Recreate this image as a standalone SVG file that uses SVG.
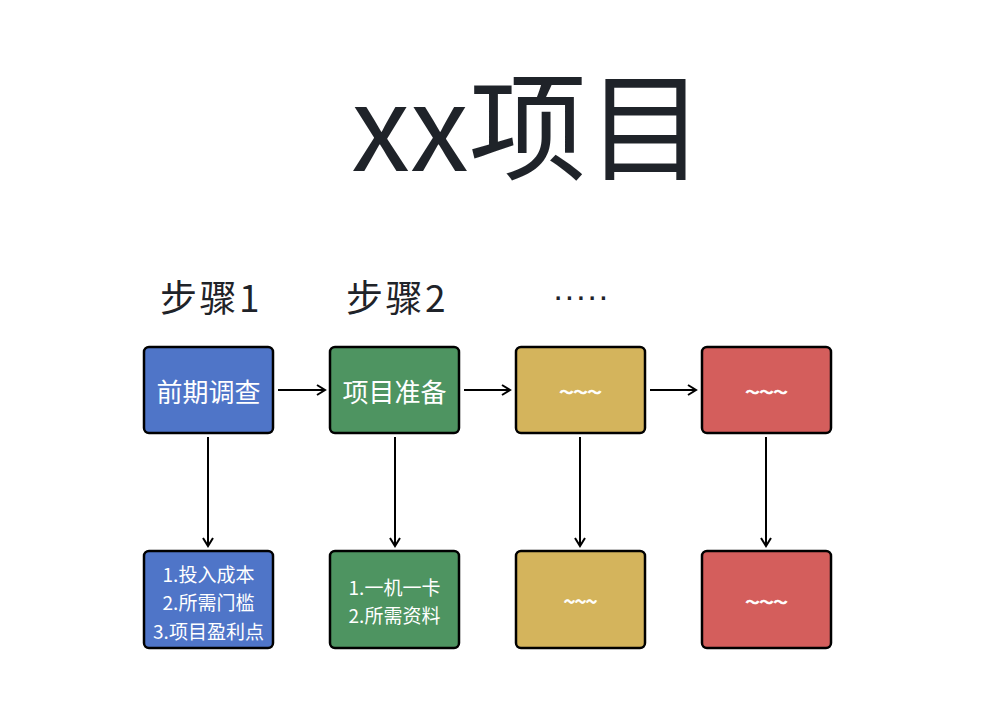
<svg xmlns="http://www.w3.org/2000/svg" width="1003" height="721" viewBox="0 0 1003 721">
<defs>
<marker id="ah" markerWidth="12" markerHeight="12" refX="10" refY="6" orient="auto" markerUnits="userSpaceOnUse">
<path d="M2,1 L10,6 L2,11" fill="none" stroke="#000" stroke-width="2"/>
</marker>
<style>
text{font-family:"Noto Sans CJK SC","Noto Sans",sans-serif;}
.box{stroke:#000;stroke-width:2.5;}
.blue{fill:#4F75C8;}
.green{fill:#4E9461;}
.gold{fill:#D4B45C;}
.red{fill:#D45E5C;}
.lbl{fill:#fff;text-anchor:middle;dominant-baseline:central;}
.tl{font-weight:700;stroke:#fff;stroke-width:0.6;}
.conn path{stroke:#000;stroke-width:2;fill:none;marker-end:url(#ah);}
.step{fill:#1f2329;font-size:37px;letter-spacing:2.5px;}
</style>
</defs>
<rect width="1003" height="721" fill="#fff"/>
<text x="528" y="119" font-size="118" fill="#1f2329" text-anchor="middle" dominant-baseline="central">xx项目</text>
<text class="step" x="160" y="296" dominant-baseline="central">步骤1</text>
<text class="step" x="346" y="296" dominant-baseline="central">步骤2</text>
<text x="552.5" y="307" font-size="34" fill="#1f2329" style="font-family:'Liberation Sans',Arial,sans-serif">·····</text>
<g class="conn">
<path d="M278,390 H325"/>
<path d="M464,390 H510"/>
<path d="M650,390 H696"/>
<path d="M208,437 V546"/>
<path d="M395,437 V546"/>
<path d="M580,437 V546"/>
<path d="M766,437 V546"/>
</g>
<g id="n1"><rect class="box blue" x="144" y="347" width="129" height="86" rx="5"/><text class="lbl" x="208.5" y="390" font-size="26">前期调查</text></g>
<g id="n2"><rect class="box green" x="330" y="347" width="129" height="86" rx="5"/><text class="lbl" x="394.5" y="390" font-size="26">项目准备</text></g>
<g id="n3"><rect class="box gold" x="516" y="347" width="129" height="86" rx="5"/><text class="lbl tl" x="580.5" y="391" font-size="14">～～～</text></g>
<g id="n4"><rect class="box red" x="702" y="347" width="129" height="86" rx="5"/><text class="lbl tl" x="766.5" y="391" font-size="14">～～～</text></g>
<g id="n5"><rect class="box blue" x="144" y="551" width="129" height="97" rx="5"/>
<text class="lbl" x="208.5" y="573" font-size="19">1.投入成本</text>
<text class="lbl" x="208.5" y="601" font-size="19">2.所需门槛</text>
<text class="lbl" x="208.5" y="630" font-size="19">3.项目盈利点</text></g>
<g id="n6"><rect class="box green" x="330" y="551" width="129" height="97" rx="5"/>
<text class="lbl" x="394.5" y="586" font-size="19">1.一机一卡</text>
<text class="lbl" x="394.5" y="614" font-size="19">2.所需资料</text></g>
<g id="n7"><rect class="box gold" x="516" y="551" width="129" height="97" rx="5"/><text class="lbl tl" x="580.5" y="601" font-size="11">～～～</text></g>
<g id="n8"><rect class="box red" x="702" y="551" width="129" height="97" rx="5"/><text class="lbl tl" x="766.5" y="601" font-size="14">～～～</text></g>
</svg>
